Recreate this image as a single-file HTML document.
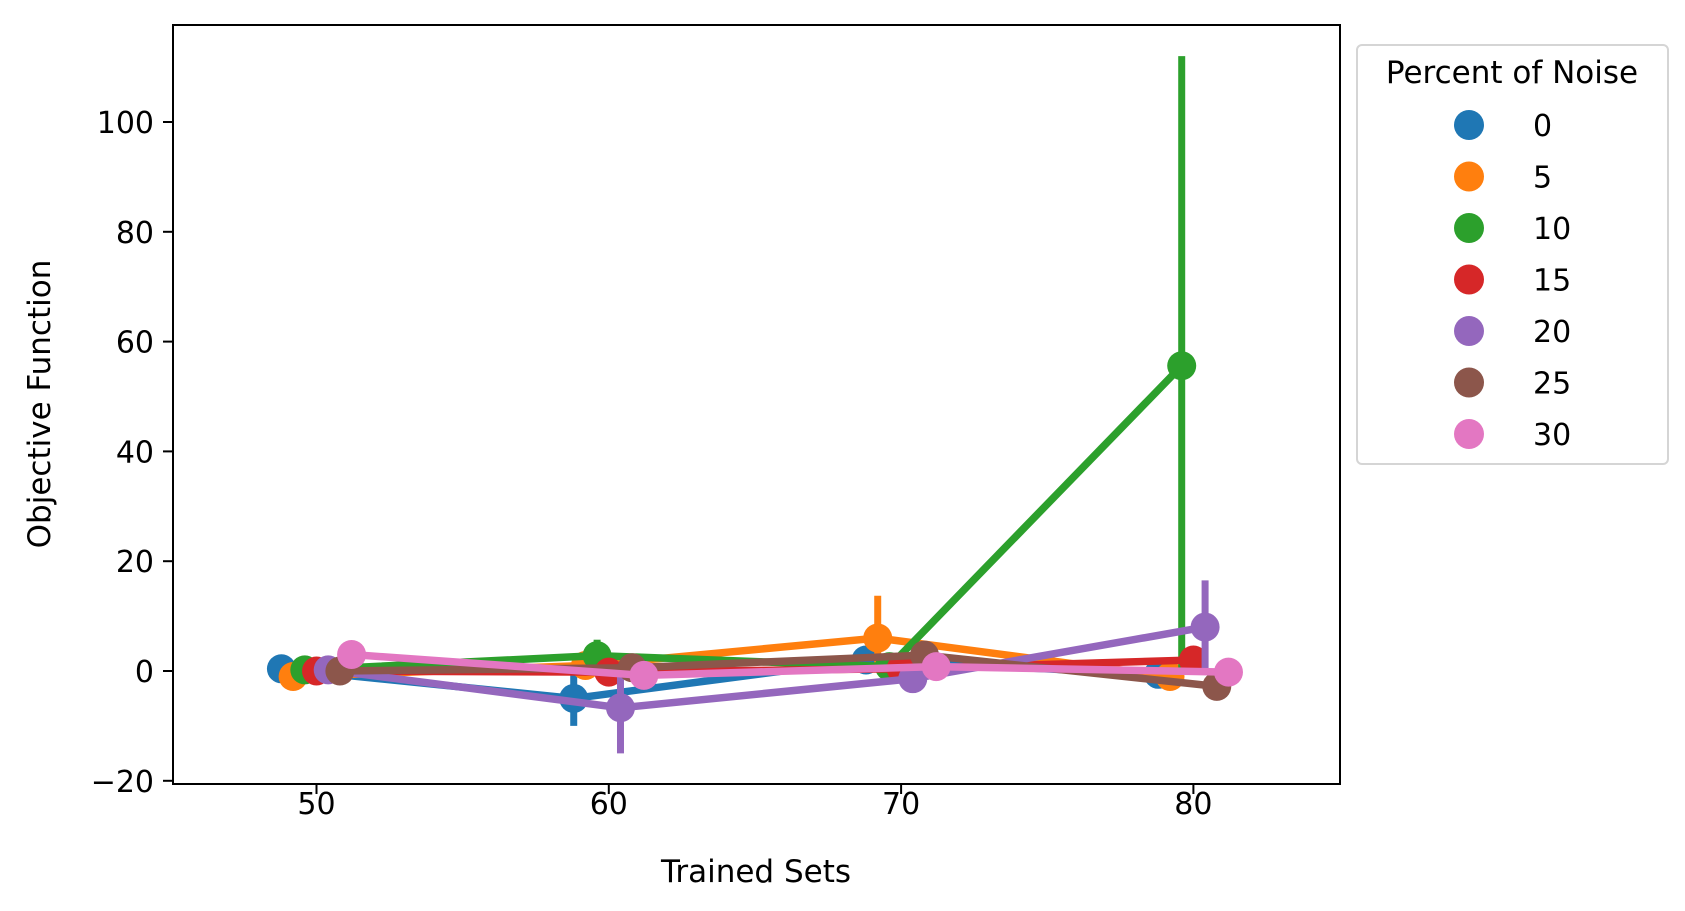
<!DOCTYPE html>
<html><head><meta charset="utf-8"><style>
body{margin:0;background:#fff}
svg{display:block;font-family:"DejaVu Sans","Liberation Sans",sans-serif}
</style></head><body>
<svg id="chart" width="1685" height="911" viewBox="0 0 1685 911" xmlns="http://www.w3.org/2000/svg">
<rect x="0" y="0" width="1685" height="911" fill="#fff"/>
<g id="marks"></g>
<rect x="173" y="25" width="1167" height="759" fill="none" stroke="#000" stroke-width="2"/>
<g id="axes"></g>
<text x="756" y="882" font-size="31" text-anchor="middle">Trained Sets</text>
<text transform="translate(50,404) rotate(-90)" font-size="31" text-anchor="middle">Objective Function</text>
<g>
<rect x="1357" y="45" width="311" height="419" rx="5" fill="#fff" stroke="#d5d5d5" stroke-width="2"/>
<text x="1512" y="83" font-size="31" text-anchor="middle">Percent of Noise</text>
<g id="legend-entries"></g>
</g>
</svg>
<script>
const xCats = [50, 60, 70, 80];
const hues = ["0", "5", "10", "15", "20", "25", "30"];
const colors = ["#1f77b4", "#ff7f0e", "#2ca02c", "#d62728", "#9467bd", "#8c564b", "#e377c2"];
const s0 = [0.4, -5, 2, -0.6];
const s5 = [-1, 1, 6, -1];
const s10 = [0.2, 2.8, 0.8, 55.6];
const s15 = [0, -0.2, 0.4, 2];
const s20 = [0.2, -6.7, -1.4, 8];
const s25 = [0, 0.6, 2.9, -2.8];
const s30 = [3, -0.8, 0.8, -0.2];
const lo0 = [-0.5, -10, 0.5, -1.5], hi0 = [1.3, 0, 3.5, 0.3];
const lo5 = [-2, 0, 0, -2], hi5 = [0, 2, 13.7, 0];
const lo10 = [-0.6, 0.5, 0, 0], hi10 = [1, 5.7, 1.6, 112];
const lo15 = [-0.8, -1.2, -0.4, 0.5], hi15 = [0.8, 0.8, 1.2, 3.5];
const lo20 = [-0.6, -15, -2.5, 0], hi20 = [1, 0, -0.3, 16.5];
const lo25 = [-0.8, -0.5, 0.5, -4.5], hi25 = [0.8, 1.7, 5, -1];
const lo30 = [2, -1.8, -0.2, -1.2], hi30 = [4, 0.2, 1.8, 0.8];
const series = [s0, s5, s10, s15, s20, s25, s30];
const lows = [lo0, lo5, lo10, lo15, lo20, lo25, lo30];
const highs = [hi0, hi5, hi10, hi15, hi20, hi25, hi30];
const xTicks = [50, 60, 70, 80];
const yTicks = [-20, 0, 20, 40, 60, 80, 100];

const NS = "http://www.w3.org/2000/svg";
const xs = v => 316.5 + (v - 50) * 29.23;
const ys = v => 671 - v * 5.49;
const dodge = i => (i - 3) * 0.4;
function mk(tag, attrs, parent){const e=document.createElementNS(NS,tag);for(const k in attrs)e.setAttribute(k,attrs[k]);parent.appendChild(e);return e;}

const marks = document.getElementById('marks');
series.forEach((s, i) => {
  const g = mk('g', {}, marks);
  
  
  s.forEach((v, j) => {
    const x = xs(xCats[j] + dodge(i));
    const e = mk('line', {x1:x, x2:x, y1:ys(lows[i][j]), y2:ys(highs[i][j]), stroke:colors[i], 'stroke-width':7}, g);
    
    
  });
  const pts = s.map((v, j) => xs(xCats[j] + dodge(i)) + ',' + ys(v)).join(' ');
  const pl = mk('polyline', {points:pts, fill:'none', stroke:colors[i], 'stroke-width':7.5, 'stroke-linejoin':'round'}, g);
  
  
  s.forEach((v, j) => {
    const c = mk('circle', {cx:xs(xCats[j] + dodge(i)), cy:ys(v), r:14.5, fill:colors[i]}, g);
    
    
  });
});

const axes = document.getElementById('axes');
xTicks.forEach(t => {
  const x = xs(t);
  const l = mk('line', {x1:x, x2:x, y1:784, y2:794, stroke:'#000', 'stroke-width':2}, axes);
  
  
  const tx = mk('text', {x:x, y:814, 'font-size':30, 'text-anchor':'middle'}, axes);
  tx.textContent = t;
  
  
});
yTicks.forEach(t => {
  const y = ys(t);
  const l = mk('line', {x1:163, x2:173, y1:y, y2:y, stroke:'#000', 'stroke-width':2}, axes);
  
  
  const tx = mk('text', {x:154, y:y + 11, 'font-size':30, 'text-anchor':'end'}, axes);
  tx.textContent = t < 0 ? '\u2212' + Math.abs(t) : t;
  
  
});

const le = document.getElementById('legend-entries');
hues.forEach((h, i) => {
  const y = 125 + i * 51.5;
  const g = mk('g', {}, le);
  
  
  mk('circle', {cx:1469, cy:y, r:15, fill:colors[i]}, g);
  const tx = mk('text', {x:1533, y:y + 11, 'font-size':30}, g);
  tx.textContent = h;
});
</script>
</body></html>
